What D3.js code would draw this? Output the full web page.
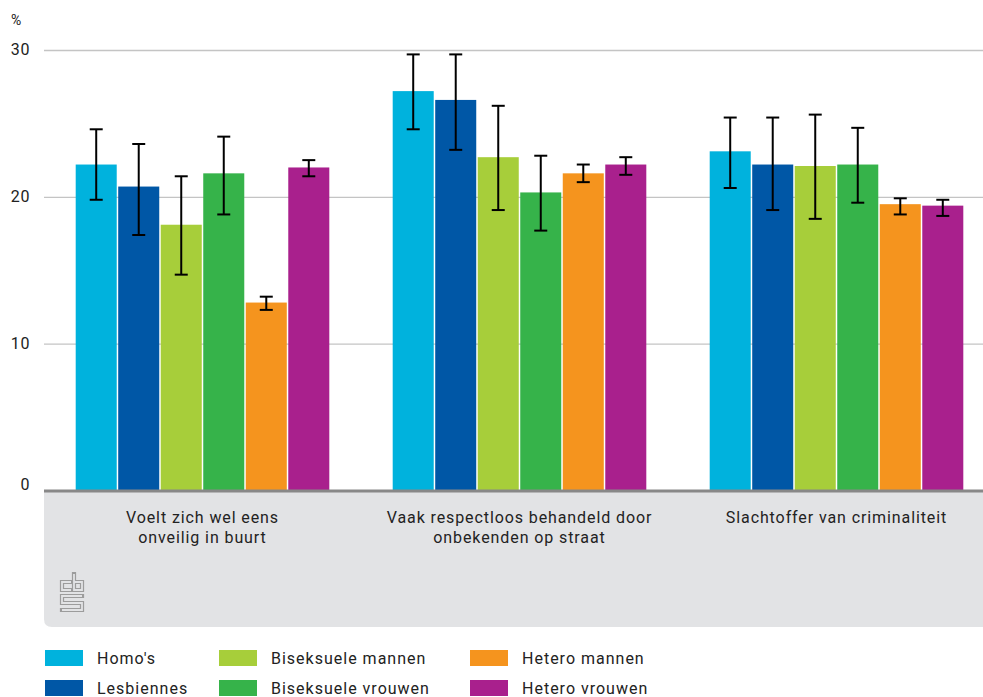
<!DOCTYPE html>
<html>
<head>
<meta charset="utf-8">
<script src="https://cdn.jsdelivr.net/npm/d3@7"></script>
<style>
  html, body { margin: 0; padding: 0; background: #fff; }
  svg { display: block; }
  text { font-family: Roboto, "Noto Sans", sans-serif; fill: #222; }
</style>
</head>
<body>
<svg id="chart" width="983" height="697"></svg>
<script>
// ---- data ----
const categories = [
  ["Voelt zich wel eens", "onveilig in buurt"],
  ["Vaak respectloos behandeld door", "onbekenden op straat"],
  ["Slachtoffer van criminaliteit"]
];
const seriesNames = ["Homo's", "Lesbiennes", "Biseksuele mannen", "Biseksuele vrouwen", "Hetero mannen", "Hetero vrouwen"];
const seriesColors = ["#00b2dd", "#0057a6", "#a7ce3a", "#36b34a", "#f5941e", "#a9208d"];
// values per series, one per category
const homos       = [22.2, 27.2, 23.1];
const lesbiennes  = [20.7, 26.6, 22.2];
const biMannen    = [18.1, 22.7, 22.1];
const biVrouwen   = [21.6, 20.3, 22.2];
const heteroMan   = [12.8, 21.6, 19.5];
const heteroVrouw = [22.0, 22.2, 19.4];
// confidence intervals [low, high]
const homosCI       = [[19.8, 24.6], [24.6, 29.7], [20.6, 25.4]];
const lesbiennesCI  = [[17.4, 23.6], [23.2, 29.7], [19.1, 25.4]];
const biMannenCI    = [[14.7, 21.4], [19.1, 26.2], [18.5, 25.6]];
const biVrouwenCI   = [[18.8, 24.1], [17.7, 22.8], [19.6, 24.7]];
const heteroManCI   = [[12.3, 13.2], [21.0, 22.2], [18.8, 19.9]];
const heteroVrouwCI = [[21.4, 22.5], [21.5, 22.7], [18.7, 19.8]];
const yTicks = [0, 10, 20, 30];

const seriesValues = [homos, lesbiennes, biMannen, biVrouwen, heteroMan, heteroVrouw];
const seriesCI = [homosCI, lesbiennesCI, biMannenCI, biVrouwenCI, heteroManCI, heteroVrouwCI];

// ---- layout ----
const svg = d3.select("#chart");
const plotLeft = 44, plotRight = 983;
const y = d3.scaleLinear().domain([0, 30]).range([490.5, 50]);
const x0 = d3.scaleBand().domain(d3.range(categories.length))
  .range([plotLeft, 995]).paddingInner(0.2).paddingOuter(0.1);
const x1 = d3.scaleBand().domain(d3.range(seriesNames.length))
  .range([0, x0.bandwidth()]).paddingInner(0.035);

// bottom grey panel
const panelTop = 490, panelBottom = 627, r = 8;
svg.append("path")
  .attr("d", `M${plotLeft},${panelTop} H${plotRight} V${panelBottom} H${plotLeft + r} Q${plotLeft},${panelBottom} ${plotLeft},${panelBottom - r} Z`)
  .attr("fill", "#e2e3e5");

// gridlines
const yAxis = d3.axisLeft(y).tickValues(yTicks).tickSize(-(plotRight - plotLeft)).tickFormat(d3.format("d")).tickPadding(14);
const gAxis = svg.append("g").attr("transform", `translate(${plotLeft},0)`).call(yAxis);
gAxis.select(".domain").remove();
gAxis.selectAll(".tick line").attr("stroke", "#c4c4c4").attr("stroke-width", 1.4)
  .filter(d => d === 0).remove();
gAxis.selectAll(".tick text").attr("font-size", 16).attr("fill", "#222")
  .style("font-family", "Roboto, sans-serif").style("letter-spacing", "0.6px")
  .attr("dy", d => d === 0 ? "-0.05em" : "0.3em");

svg.append("text").attr("x", 11).attr("y", 25).attr("font-size", 14).text("%");

// bars
const groups = svg.append("g").selectAll("g").data(categories).join("g")
  .attr("transform", (d, i) => `translate(${x0(i)},0)`);

groups.each(function(cat, ci) {
  const g = d3.select(this);
  seriesNames.forEach((s, si) => {
    const v = seriesValues[si][ci];
    g.append("rect")
      .attr("x", x1(si)).attr("width", x1.bandwidth())
      .attr("y", y(v)).attr("height", y(0) - y(v))
      .attr("fill", seriesColors[si]);
  });
  seriesNames.forEach((s, si) => {
    const [lo, hi] = seriesCI[si][ci];
    const cx = x1(si) + x1.bandwidth() / 2;
    const eb = g.append("g").attr("stroke", "#000").attr("stroke-width", 2);
    eb.append("line").attr("x1", cx).attr("x2", cx).attr("y1", y(hi)).attr("y2", y(lo));
    eb.append("line").attr("x1", cx - 6.5).attr("x2", cx + 6.5).attr("y1", y(hi)).attr("y2", y(hi));
    eb.append("line").attr("x1", cx - 6.5).attr("x2", cx + 6.5).attr("y1", y(lo)).attr("y2", y(lo));
  });
});

// axis baseline
svg.append("line").attr("x1", plotLeft).attr("x2", plotRight)
  .attr("y1", 491).attr("y2", 491).attr("stroke", "#888").attr("stroke-width", 3);

// category labels
categories.forEach((lines, ci) => {
  const cx = x0(ci) + x0.bandwidth() / 2;
  const t = svg.append("text").attr("text-anchor", "middle").attr("font-size", 16).attr("fill", "#222")
    .style("letter-spacing", "0.9px");
  lines.forEach((ln, li) => {
    t.append("tspan").attr("x", cx).attr("y", 523 + li * 20).text(ln);
  });
});

// cbs logo
const logo = svg.append("g").attr("transform", "translate(60,574)").attr("fill", "none").attr("stroke-linejoin", "miter");
const logoPaths = [
  "M11,8 H2 V16 H11",
  "M14,0 V16 H22 V8 H14",
  "M22,22 H2 V29 H22 V36 H2"
];
logoPaths.forEach(p => {
  logo.append("path").attr("d", p).attr("stroke", "#9c9c9c").attr("stroke-width", 4.2).attr("stroke-linecap", "square");
});
logoPaths.forEach(p => {
  logo.append("path").attr("d", p).attr("stroke", "#e2e3e5").attr("stroke-width", 1.8).attr("stroke-linecap", "butt");
});

// legend
const legendCols = [45, 219, 470];
const legendRows = [650, 680];
seriesNames.forEach((s, i) => {
  const col = Math.floor(i / 2), row = i % 2;
  const lx = legendCols[col], ly = legendRows[row];
  svg.append("rect").attr("x", lx).attr("y", ly).attr("width", 38).attr("height", 16).attr("fill", seriesColors[i]);
  svg.append("text").attr("x", lx + 52).attr("y", ly + 14).attr("font-size", 16).attr("fill", "#222")
    .style("letter-spacing", "1px").text(s);
});
</script>
</body>
</html>
